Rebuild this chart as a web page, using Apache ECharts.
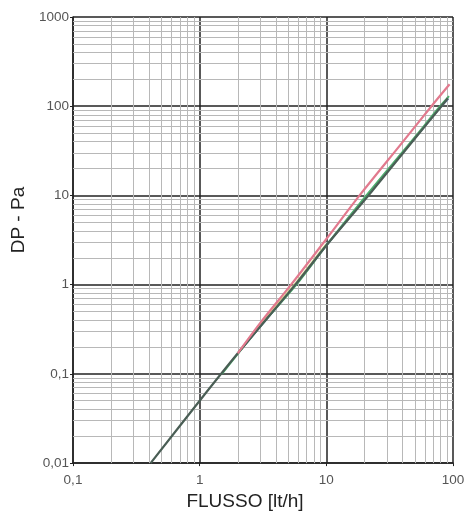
<!DOCTYPE html>
<html><head><meta charset="utf-8">
<script src="https://cdn.jsdelivr.net/npm/echarts@6/dist/echarts.min.js"></script>
<style>html,body{margin:0;padding:0;background:#fff}#c{width:468px;height:516px}</style>
</head><body><div id="c"></div>
<script>
// Data
const xTicks = [0.1, 1, 10, 100];
const yTicks = [0.01, 0.1, 1, 10, 100, 1000];
const minorMultipliers = [2, 3, 4, 5, 6, 7, 8, 9];

const redX =    [2, 3, 5.27, 10, 18.3, 40, 67.6, 94];
const redY =    [0.17, 0.37, 1, 3.25, 10, 39.6, 100, 176];
const yellowX = [2, 3.5, 5.6, 8, 10];
const yellowY = [0.17, 0.46, 1, 1.9, 2.85];
const greenX =  [1.5, 3, 5.8, 10, 20.7, 50, 79, 93];
const greenY =  [0.1, 0.34, 1, 2.75, 10, 45, 100, 130];
const blueX =   [2, 5.7, 10, 21, 50, 81, 92];
const blueY =   [0.17, 1, 2.75, 10, 44, 100, 122];
const greyX =   [0.41, 1, 2, 5.7, 10, 21.5, 50, 81, 91];
const greyY =   [0.01, 0.05, 0.17, 1, 2.75, 10, 43.4, 100, 123];

function zip(a, b) { return a.map((v, i) => [v, b[i]]); }
function minorValues(ticks) {
  const out = [];
  for (let i = 0; i < ticks.length - 1; i++) minorMultipliers.forEach(m => out.push(ticks[i] * m));
  return out;
}
const fmt = v => String(v).replace('.', ',');
const font = '"Liberation Sans", Arial, sans-serif';

const chart = echarts.init(document.getElementById('c'));
const lineSeries = (name, x, y, color, width) => ({
  name, type: 'line', data: zip(x, y), showSymbol: false, symbol: 'none',
  smooth: 0.3, z: 5, lineStyle: { color, width }, silent: true
});
chart.setOption({
  animation: false,
  grid: { left: 73, right: 15, top: 17, bottom: 52 },
  xAxis: {
    type: 'log', logBase: 10, min: 0.1, max: 100,
    name: 'FLUSSO [lt/h]', nameLocation: 'middle', nameGap: 28,
    nameTextStyle: { fontSize: 19, color: '#222', fontFamily: font, padding: [0, 36, 0, 0] },
    axisLine: { show: true, lineStyle: { color: '#222', width: 1.5 } },
    axisTick: { show: true, length: 3, lineStyle: { color: '#222' } },
    axisLabel: { formatter: fmt, fontSize: 13.5, color: '#555', fontFamily: font, margin: 10 },
    splitLine: { show: true, lineStyle: { color: '#222', width: 1.5 } }
  },
  yAxis: {
    type: 'log', logBase: 10, min: 0.01, max: 1000,
    name: 'DP - Pa', nameLocation: 'middle', nameGap: 43,
    nameTextStyle: { fontSize: 19, color: '#222', fontFamily: font, padding: [0, 0, 0, 40] },
    axisLine: { show: true, lineStyle: { color: '#222', width: 1.5 } },
    axisTick: { show: true, length: 3, lineStyle: { color: '#222' } },
    axisLabel: { formatter: fmt, fontSize: 13.5, color: '#555', fontFamily: font, margin: 4 },
    splitLine: { show: true, lineStyle: { color: '#222', width: 1.5 } }
  },
  series: [
    {
      type: 'line', data: [], z: 1, silent: true,
      markLine: {
        silent: true, symbol: 'none', animation: false,
        label: { show: false },
        lineStyle: { color: '#b8b8b8', width: 1, type: 'solid' },
        data: minorValues(xTicks).map(v => ({ xAxis: v }))
          .concat(minorValues(yTicks).map(v => ({ yAxis: v })))
      }
    },
    lineSeries('yellow', yellowX, yellowY, '#d6d27a', 2),
    lineSeries('blue', blueX, blueY, '#6a86b8', 2),
    lineSeries('green', greenX, greenY, '#4fae6e', 2),
    lineSeries('grey', greyX, greyY, '#4a5e55', 2.2),
    lineSeries('red', redX, redY, '#e27a8e', 2.2)
  ]
});
</script></body></html>
